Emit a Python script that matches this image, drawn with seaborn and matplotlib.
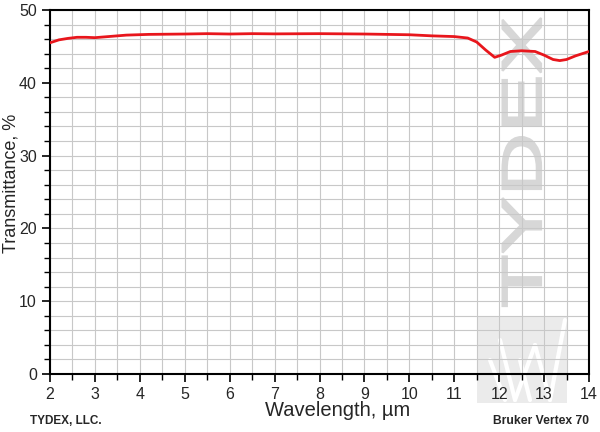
import matplotlib
matplotlib.use("Agg")
import matplotlib.pyplot as plt
import seaborn as sns
import pandas as pd
from matplotlib.patches import Rectangle, PathPatch
from matplotlib.lines import Line2D
from matplotlib.ticker import MultipleLocator
from matplotlib.textpath import TextPath
from matplotlib.font_manager import FontProperties
from matplotlib.transforms import Affine2D

wavelength = [2.0, 2.2, 2.4, 2.6, 2.8, 3.0, 3.3, 3.7, 4.2, 5.0, 5.5, 6.0, 6.5, 7.0, 8.0,
              9.0, 9.5, 10.0, 10.5, 11.0, 11.3, 11.5, 11.7, 11.9, 12.05, 12.25, 12.5,
              12.8, 13.0, 13.2, 13.35, 13.5, 13.7, 14.0]
transmittance = [45.5, 45.9, 46.1, 46.25, 46.25, 46.2, 46.35, 46.55, 46.65, 46.7, 46.75,
                 46.7, 46.75, 46.72, 46.75, 46.7, 46.65, 46.6, 46.45, 46.35, 46.15, 45.6,
                 44.5, 43.5, 43.8, 44.3, 44.4, 44.3, 43.8, 43.2, 43.05, 43.2, 43.7, 44.3]

sns.set_theme(style="white")
plt.rcParams['font.family'] = ['Liberation Sans', 'DejaVu Sans']

df = pd.DataFrame({"Wavelength": wavelength, "T": transmittance})

W, H = 600, 432
fig = plt.figure(figsize=(6, 4.32), dpi=100)
ax = fig.add_axes([50/W, 58/H, 539/W, 364/H])
ax.set_zorder(2)
ax.patch.set_alpha(0)

# watermark logo square
fig.patches.append(Rectangle((477/W, (H-403)/H), 90/W, 86/H,
                             transform=fig.transFigure, facecolor='#ebebeb',
                             edgecolor='none', zorder=0))
for (x0, y0, x1, y1) in [(500, 340, 515, 400), (515, 400, 535, 345), (535, 345, 550, 400),
                         (550, 400, 565, 320), (490, 360, 505, 400), (520, 360, 530, 400)]:
    fig.lines.append(Line2D([x0/W, x1/W], [(H-y0)/H, (H-y1)/H],
                            transform=fig.transFigure, color='white', lw=3, zorder=0.5))

# watermark letters (compressed, rotated)
fp = FontProperties(family='Liberation Sans')
tp = TextPath((0, 0), "TYDEX", size=86, prop=fp)
ext = tp.get_extents()
cap = 0.716 * 86
trans = (Affine2D().translate(-ext.x0, 0).scale(288 / ext.width, 40 / cap)
         .rotate_deg(90).translate(541, H - 306).scale(1 / W, 1 / H))
wm = PathPatch(trans.transform_path(tp), facecolor='#d7d7d7', edgecolor='#d7d7d7',
               lw=1.6, transform=fig.transFigure, zorder=0.3)
fig.patches.append(wm)

sns.lineplot(data=df, x="Wavelength", y="T", ax=ax, color='#e8161c', lw=2.0, zorder=5)

ax.set_xlim(2, 14)
ax.set_ylim(0, 50)
ax.xaxis.set_major_locator(MultipleLocator(1))
ax.xaxis.set_minor_locator(MultipleLocator(0.5))
ax.yaxis.set_major_locator(MultipleLocator(10))
ax.yaxis.set_minor_locator(MultipleLocator(2))
ax.grid(True, which='both', color='#c8c8c8', lw=0.8)
ax.set_axisbelow(True)
ax.tick_params(which='major', direction='out', length=6, width=1.2, labelsize=11.5,
               bottom=True, left=True, color='black', pad=3.5)
ax.tick_params(which='minor', direction='out', length=4, width=1.0,
               bottom=True, left=True, color='black')
for s in ax.spines.values():
    s.set_color('black')
    s.set_linewidth(1.5)
ax.set_xlabel("Wavelength, \u00b5m", fontsize=14.5)
ax.set_ylabel("Transmittance, %", fontsize=13)
ax.xaxis.set_label_coords((338 - 50) / 539, (374 - 401) / 364)
ax.yaxis.set_label_coords((20 - 50) / 539, (374 - 183) / 364)

fig.text(30/W, 1 - 421/H, "TYDEX, LLC.", fontsize=8.5, fontweight='bold', va='center', ha='left')
fig.text(589/W, 1 - 421/H, "Bruker Vertex 70", fontsize=8.7, fontweight='bold', va='center', ha='right')

fig.savefig("out.png", dpi=100)
